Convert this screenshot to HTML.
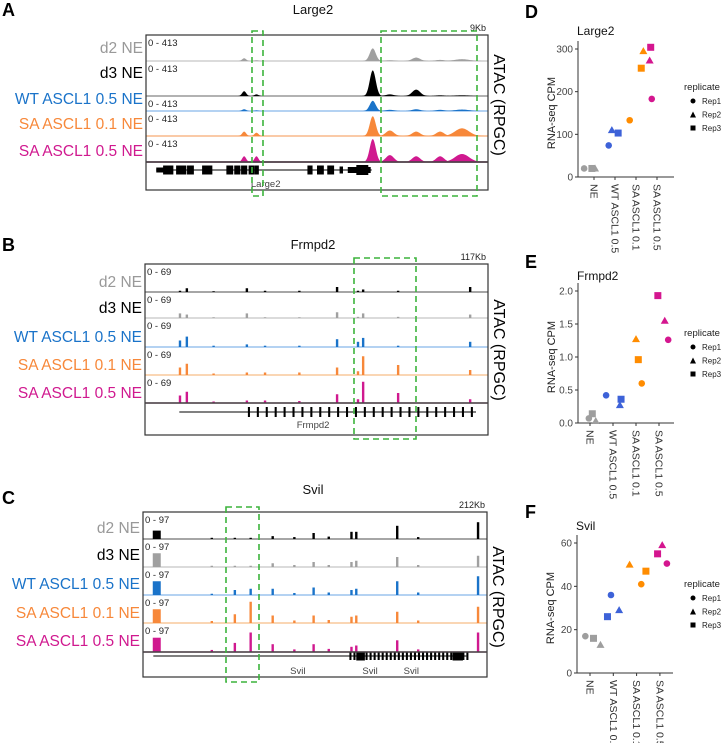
<!DOCTYPE html>
<html><head><meta charset="utf-8">
<style>
html,body{margin:0;padding:0;background:#fff;}
svg{display:block;font-family:"Liberation Sans",sans-serif;}
</style></head>
<body>
<svg id="fig" width="725" height="743" viewBox="0 0 725 743" xmlns="http://www.w3.org/2000/svg">
<g id="layer"></g>
</svg>
<script>
// ---------- DATA ----------
const trackLabels = ["d2 NE","d3 NE","WT ASCL1 0.5 NE","SA ASCL1 0.1 NE","SA ASCL1 0.5 NE"];
const labelColors = ["#999999","#000000","#1a73c9","#f7883a","#d0198f"];
const aPos = [0.287,0.323,0.663,0.713,0.79,0.86,0.924];
const aWid = [4,4,6,8,8,8,14];
const aH = [[0.12,0.03,0.55,0.03,0.15,0.05,0.08],[0.15,0.05,0.8,0.05,0.2,0.02,0.02],[0.15,0.05,0.85,0.1,0.15,0.1,0.12],[0.2,0.15,0.9,0.25,0.2,0.2,0.35],[0.25,0.25,1.0,0.3,0.25,0.25,0.35]];
const bPos = [0.102,0.122,0.297,0.56,0.621,0.636,0.738,0.948,0.35,0.45,0.2];
const bH = [[0.05,0.15,0.15,0.2,0.05,0.1,0.05,0.2,0.05,0.05,0.03],[0.2,0.15,0.2,0.25,0.05,0.2,0.05,0.15,0.03,0.03,0.03],[0.25,0.4,0.1,0.3,0.2,0.35,0.05,0.2,0.05,0.05,0.05],[0.3,0.45,0.1,0.3,0.15,0.75,0.4,0.2,0.1,0.1,0.06],[0.3,0.45,0.1,0.35,0.15,0.85,0.4,0.15,0.1,0.08,0.06]];
const cPos = [0.04,0.267,0.313,0.377,0.496,0.606,0.62,0.739,0.974,0.44,0.54,0.8,0.2];
const cH = [[0.35,0.05,0.05,0.12,0.25,0.3,0.3,0.55,0.7,0.08,0.1,0.08,0.05],[0.55,0.05,0.05,0.15,0.2,0.2,0.25,0.4,0.45,0.08,0.08,0.08,0.05],[0.55,0.2,0.25,0.25,0.3,0.2,0.25,0.55,0.75,0.08,0.1,0.1,0.05],[0.55,0.35,0.85,0.3,0.3,0.25,0.3,0.45,0.65,0.1,0.12,0.1,0.08],[0.55,0.35,0.75,0.3,0.3,0.2,0.25,0.45,0.75,0.1,0.12,0.1,0.08]];
const categories = ["NE","WT ASCL1 0.5","SA ASCL1 0.1","SA ASCL1 0.5"];
const catColors = ["#9e9e9e","#3d62d8","#ff8c00","#d4168f"];
const replicates = ["Rep1","Rep2","Rep3"];
const large2Vals = [[20,20,20],[74,110,103],[133,295,255],[183,273,304]];
const frmpd2Vals = [[0.07,0.03,0.14],[0.42,0.27,0.36],[0.6,1.27,0.96],[1.26,1.55,1.93]];
const svilVals = [[17,13,16],[36,29,26],[41,50,47],[50.5,59,55]];
const large2Jit = [[-0.47,0.05,-0.1],[-0.3,-0.15,0.15],[-0.3,0.35,0.25],[-0.25,-0.35,-0.3]];
const frmpd2Jit = [[-0.05,0.25,0.1],[-0.3,0.3,0.35],[0.25,0.0,0.1],[0.4,0.25,-0.05]];
const svilJit = [[-0.2,0.45,0.15],[-0.1,0.25,-0.25],[0.2,-0.3,0.4],[0.3,0.1,-0.1]];
const large2Ticks = [0,100,200,300];
const frmpd2Ticks = [0,0.5,1.0,1.5,2.0];
const svilTicks = [0,20,40,60];

const NS="http://www.w3.org/2000/svg";
const root=document.getElementById('layer');
function el(tag,attrs,parent,text){const e=document.createElementNS(NS,tag);for(const k in attrs)e.setAttribute(k,attrs[k]);if(text!==undefined)e.textContent=text;(parent||root).appendChild(e);return e;}

function drawTracks(cfg){
  const g=el('g',{});
  
  
  const t=el('text',{x:cfg.titleX,y:cfg.titleY,'font-size':13,'text-anchor':'middle',fill:'#111'},g,cfg.title);
  
  
  const L=el('text',{x:2,y:cfg.letterY,'font-size':18,'font-weight':'bold',fill:'#000'},g,cfg.letter);
  
  
  const kb=el('text',{x:cfg.x1-2,y:cfg.top-4,'font-size':9,'text-anchor':'end',fill:'#222'},g,cfg.kb);
  
  
  const W=cfg.x1-cfg.x0;
  let prev=cfg.top;
  for(let i=0;i<5;i++){
    const base=cfg.bases[i], top=prev+1, hmax=base-top-2;
    const tc=cfg.trackColors[i];
    el('line',{x1:cfg.x0,x2:cfg.x1,y1:base,y2:base,stroke:cfg.baseColors[i],'stroke-width':1.5},g);
    for(let p=0;p<cfg.pos.length;p++){
      const cx=cfg.x0+cfg.pos[p]*W, h=cfg.H[i][p]*hmax, w=cfg.wid?cfg.wid[p]:(p===0&&cfg.firstWide?4:1.2);
      let d;
      if(cfg.wid){
        d='M'+(cx-w*1.8)+','+base;
        for(let k=-18;k<=18;k++){const xx=cx+k*w/10;d+=' L'+xx+','+(base-h*Math.exp(-(k/10)*(k/10)*2));}
        d+=' L'+(cx+w*1.8)+','+base+'Z';
      } else {
        d='M'+(cx-w)+','+base+' L'+(cx-w)+','+(base-h)+' L'+(cx+w)+','+(base-h)+' L'+(cx+w)+','+base+'Z';
      }
      const pk=el('path',{d:d,fill:tc},g);
      
      
    }
    const r=el('text',{x:cfg.x0+2,y:top+10,'font-size':9.5,fill:'#222'},g,cfg.range);
    
    
    const lb=el('text',{x:cfg.x0-3,y:cfg.labelY[i],'font-size':15.5,'text-anchor':'end',fill:labelColors[i]},g,trackLabels[i]);
    
    
    prev=base;
  }
  const gy=cfg.bases[4]+cfg.geneDy;
  el('line',{x1:cfg.x0+cfg.gene[0]*W,x2:cfg.x0+cfg.gene[1]*W,y1:gy,y2:gy,stroke:'#000','stroke-width':1},g);
  cfg.exons.forEach(ex=>{el('rect',{x:cfg.x0+ex[0]*W,y:gy-ex[2]/2,width:Math.max(1,ex[1]*W),height:ex[2],fill:'#000'},g);});
  cfg.geneNames.forEach(gn=>{const tx=el('text',{x:cfg.x0+gn[0]*W,y:gy+gn[1],'font-size':9.5,'text-anchor':'middle',fill:'#444'},g,gn[2]);});
  el('rect',{x:cfg.x0,y:cfg.top,width:W,height:cfg.bottom-cfg.top,fill:'none',stroke:'#333','stroke-width':1.2},g);
  el('line',{x1:cfg.x0,x2:cfg.x1,y1:cfg.bases[4],y2:cfg.bases[4],stroke:'#444','stroke-width':1.5},g);
  cfg.boxes.forEach(b=>{const r=el('rect',{x:b[0],y:b[1],width:b[2]-b[0],height:b[3]-b[1],fill:'none',stroke:'#3cb43c','stroke-width':1.6,'stroke-dasharray':'6,4'},g);});
  const at=el('text',{transform:'translate('+(cfg.x1+6)+','+cfg.atacY+') rotate(90)','font-size':16,'text-anchor':'middle',fill:'#000'},g,'ATAC (RPGC)');
  
  
}

function exonsEven(a,b,n,h,w){const r=[];for(let i=0;i<n;i++)r.push([a+(b-a)*i/(n-1),w,h]);return r;}

drawTracks({name:'large2',title:'Large2',titleX:313,titleY:14,letter:'A',letterY:16,kb:'9Kb',
 x0:146,x1:488,top:35,bottom:190,bases:[61,96,111,136,162],labelY:[53,78,104,129,156],range:'0 - 413',
 trackColors:['#a0a0a0','#000','#1a73c9','#f7883a','#d0198f'],baseColors:['#cfcfcf','#999','#9cc4ee','#f9b98a','#7a1050'],
 pos:aPos,wid:aWid,H:aH,geneDy:8,gene:[0.03,0.66],
 exons:[[0.03,0.04,5],[0.05,0.03,9],[0.088,0.03,9],[0.12,0.02,9],[0.164,0.03,9],[0.235,0.02,9],[0.258,0.018,9],[0.278,0.018,9],[0.3,0.018,9],[0.318,0.012,9],[0.472,0.015,9],[0.5,0.02,9],[0.53,0.02,9],[0.566,0.01,7],[0.59,0.04,6],[0.615,0.035,10],[0.645,0.012,6]],
 geneNames:[[0.35,17,'Large2']],
 boxes:[[252,31,263,196],[381,31,477,196]],atacY:105});

drawTracks({name:'frmpd2',title:'Frmpd2',titleX:313,titleY:249,letter:'B',letterY:251,kb:'117Kb',
 x0:145,x1:488,top:264,bottom:435,bases:[292,318,347,375,403],labelY:[287,313,342,370,398],range:'0 - 69',
 trackColors:['#000','#a0a0a0','#1a73c9','#f7883a','#d0198f'],baseColors:['#888','#cfcfcf','#9cc4ee','#f9c89c','#e9a3cf'],
 pos:bPos,H:bH,geneDy:9,gene:[0.1,0.965],
 exons:exonsEven(0.3,0.95,26,10,0.006),
 geneNames:[[0.49,16,'Frmpd2']],
 boxes:[[354,258,416,439]],atacY:350});

drawTracks({name:'svil',title:'Svil',titleX:313,titleY:494,letter:'C',letterY:504,kb:'212Kb',
 x0:143,x1:487,top:512,bottom:677,bases:[539,567,595,623,652],labelY:[533,560,589,618,646],range:'0 - 97',
 trackColors:['#000','#a0a0a0','#1a73c9','#f7883a','#d0198f'],baseColors:['#888','#cfcfcf','#9cc4ee','#f9c89c','#e9a3cf'],
 pos:cPos,H:cH,firstWide:true,geneDy:4,gene:[0.03,0.94],
 exons:exonsEven(0.6,0.94,30,8,0.006).concat([[0.62,0.025,9],[0.9,0.03,9]]),
 geneNames:[[0.45,18,'Svil'],[0.66,18,'Svil'],[0.78,18,'Svil']],
 boxes:[[226,507,259,682]],atacY:597});

function scatter(cfg){
  const g=el('g',{});
  
  
  const yS=v=>cfg.y0-(v/cfg.tmax)*(cfg.y0-cfg.yTop);
  const xS=(c,j)=>cfg.cx0+(c+j)*cfg.step;
  el('line',{x1:cfg.ax,x2:cfg.ax,y1:cfg.yTop-8,y2:cfg.y0,stroke:'#333','stroke-width':1},g);
  el('line',{x1:cfg.ax,x2:cfg.ax+96,y1:cfg.y0,y2:cfg.y0,stroke:'#333','stroke-width':1},g);
  cfg.ticks.forEach(t=>{
    const y=yS(t);
    el('line',{x1:cfg.ax-3,x2:cfg.ax,y1:y,y2:y,stroke:'#333'},g);
    const tx=el('text',{x:cfg.ax-5,y:y+3.5,'font-size':10,'text-anchor':'end',fill:'#444'},g,cfg.fmt(t));
    
    
  });
  categories.forEach((c,i)=>{
    const x=xS(i,0);
    el('line',{x1:x,x2:x,y1:cfg.y0,y2:cfg.y0+3,stroke:'#333'},g);
    const tx=el('text',{transform:'translate('+(x-3.5)+','+(cfg.y0+7)+') rotate(90)','font-size':10.5,fill:'#333'},g,c);
    
    
  });
  const tt=el('text',{x:cfg.ax-1,y:cfg.titleY,'font-size':12,fill:'#111'},g,cfg.title);
  
  
  const yl=el('text',{transform:'translate('+(cfg.ax-23)+','+((cfg.y0+cfg.yTop)/2)+') rotate(-90)','font-size':11,'text-anchor':'middle',fill:'#222'},g,'RNA-seq CPM');
  
  
  const L=el('text',{x:525,y:cfg.letterY,'font-size':18,'font-weight':'bold',fill:'#000'},g,cfg.letter);
  
  
  cfg.vals.forEach((arr,c)=>arr.forEach((v,r)=>{
    const x=xS(c,cfg.jit[c][r]), y=yS(v), col=catColors[c];
    let m;
    if(r===0) m=el('circle',{cx:x,cy:y,r:3.3,fill:col},g);
    else if(r===1) m=el('path',{d:'M'+x+','+(y-4)+' L'+(x+4)+','+(y+3)+' L'+(x-4)+','+(y+3)+'Z',fill:col},g);
    else m=el('rect',{x:x-3.5,y:y-3.5,width:7,height:7,fill:col},g);
    
    
  }));
  const lg=el('g',{},g);
  
  
  el('text',{x:684,y:cfg.legY,'font-size':9.5,fill:'#222'},lg,'replicate');
  replicates.forEach((rp,r)=>{
    const y=cfg.legY+14+r*13.5, x=693;
    if(r===0) el('circle',{cx:x,cy:y-3,r:2.5,fill:'#000'},lg);
    else if(r===1) el('path',{d:'M'+x+','+(y-6)+' L'+(x+3)+','+y+' L'+(x-3)+','+y+'Z',fill:'#000'},lg);
    else el('rect',{x:x-2.5,y:y-5.5,width:5,height:5,fill:'#000'},lg);
    const e=el('text',{x:702,y:y,'font-size':8,fill:'#222'},lg,rp);
    
    
  });
}
scatter({name:'large2',title:'Large2',letter:'D',letterY:18,ax:578,y0:177,yTop:49,tmax:300,ticks:large2Ticks,fmt:t=>String(t),vals:large2Vals,jit:large2Jit,cx0:594,step:21,titleY:35,legY:90});
scatter({name:'frmpd2',title:'Frmpd2',letter:'E',letterY:268,ax:578,y0:423,yTop:291,tmax:2,ticks:frmpd2Ticks,fmt:t=>t.toFixed(1),vals:frmpd2Vals,jit:frmpd2Jit,cx0:590,step:23,titleY:280,legY:336});
scatter({name:'svil',title:'Svil',letter:'F',letterY:518,ax:577,y0:673,yTop:543,tmax:60,ticks:svilTicks,fmt:t=>String(t),vals:svilVals,jit:svilJit,cx0:590,step:23.3,titleY:530,legY:587});
</script>
</body></html>
